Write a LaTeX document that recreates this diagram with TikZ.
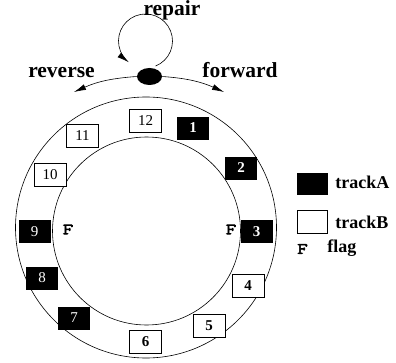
\documentclass[tikz,border=0pt]{standalone}
\usepackage{fontspec}
\setmainfont{Liberation Serif}
\newfontfamily\flagfont[FakeBold=4,FakeStretch=1.3]{Latin Modern Mono}
\usetikzlibrary{arrows.meta,shapes.geometric}
\tikzset{
  blk/.style={draw, fill=black, text=white, minimum width=31pt, minimum height=22pt, inner sep=0pt, font=\fontsize{15}{15}\selectfont},
  wht/.style={draw, fill=white, text=black, minimum width=32pt, minimum height=23pt, inner sep=0pt, font=\fontsize{15}{15}\selectfont},
  flagtxt/.style={font=\flagfont\fontsize{15.5}{15.5}\selectfont, inner sep=0pt},
  toplbl/.style={font=\bfseries\fontsize{21.5}{21.5}\selectfont, inner sep=0pt, anchor=base},
  leglbl/.style={font=\bfseries\fontsize{18}{18}\selectfont, inner sep=0pt, anchor=base west},
  arr/.style={-{Latex[length=12pt,width=6pt]}, line width=0.6pt},
}
\begin{document}
\begin{tikzpicture}[x=1pt,y=1pt, line width=0.6pt]
\useasboundingbox (0,0) rectangle (396,362);
% the two track circles
\draw (146,134.5) circle[radius=130.5];
\draw (146.5,131) circle[radius=94];
% head
\node[ellipse, fill=black, minimum width=25pt, minimum height=17pt, inner sep=0pt] (head) at (149.5,285.5) {};
% repair loop
\draw[arr] (145.5,321) ++(-68:27) arc[start angle=-68, end angle=232, radius=27];
\node[toplbl] (repair) at (172,346.5) {repair};
% direction arcs
\coordinate (revtip) at (74,270);
\coordinate (fwdtip) at (224,270);
\draw[arr] (head.west) to[out=184,in=24] (revtip);
\draw[arr] (head.east) to[out=-4,in=156] (fwdtip);
\node[toplbl] (rev) at (61.5,284) {reverse};
\node[toplbl] (fwd) at (240,284) {forward};
% blocks on the tracks
\node[wht] (b12) at (145.5,241) {12};
\node[blk] (b1) at (193,234) {\bfseries 1};
\node[wht] (b11) at (82.5,226) {11};
\node[wht] (b10) at (50,187) {10};
\node[blk] (b2) at (241,194) {\bfseries 2};
\node[blk] (b9) at (34.5,130.5) {9};
\node[blk] (b3) at (256.5,130.5) {\bfseries 3};
\node[blk] (b8) at (42,84) {8};
\node[wht] (b4) at (248,76) {\bfseries 4};
\node[blk] (b7) at (74,44) {7};
\node[wht] (b5) at (209,36) {\bfseries 5};
\node[wht] (b6) at (145.5,20) {\bfseries 6};
% flags
\node[flagtxt] (fl) at (68,132.5) {F};
\node[flagtxt] (fr) at (231,132.5) {F};
% legend
\node[blk, minimum width=30pt, minimum height=21pt] (lgA) at (312,178.5) {};
\node[leglbl] (lgAt) at (335,174) {trackA};
\node[wht, minimum width=30pt, minimum height=23pt] (lgB) at (312,140) {};
\node[leglbl] (lgBt) at (335,134) {trackB};
\node[flagtxt] (lgF) at (302.5,113) {F};
\node[leglbl] (lgFt) at (327,110) {flag};
\end{tikzpicture}
\end{document}
